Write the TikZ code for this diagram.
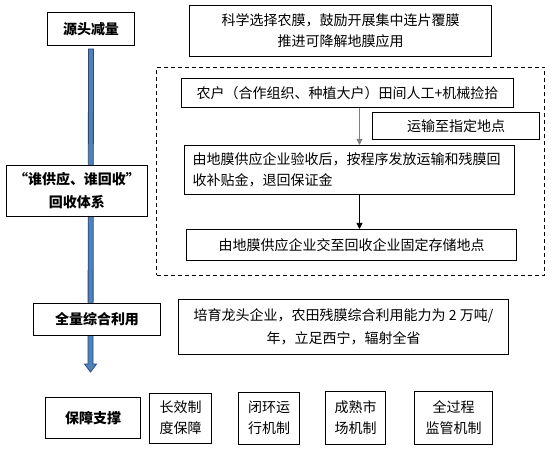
\documentclass[tikz,border=0pt]{standalone}
\usepackage{fontspec}
\setmainfont{Noto Sans CJK SC}
\usepackage{tikz}
\usetikzlibrary{arrows.meta,positioning,calc}
\definecolor{flowBlue}{HTML}{4F81BD}
\definecolor{flowEdge}{HTML}{2B4A73}

\begin{document}
\begin{tikzpicture}[x=1pt,y=-1pt,
  box/.style={draw,fill=white,line width=1pt,inner sep=0pt,align=center,
    font=\fontsize{14}{21}\selectfont},
  tbox/.style={box,anchor=north west},
  head/.style={tbox,font=\fontsize{14}{23}\selectfont\bfseries},
  ar/.style={-{Triangle[length=6pt,width=6pt]},line width=0.9pt}
]
\useasboundingbox (0,0) rectangle (552,449);
\node[head,minimum width=87pt,minimum height=33pt] (src) at (47,12) {源头减量};
\coordinate (flowend) at (90.5,372);
\filldraw[fill=flowBlue,draw=flowEdge,line width=0.8pt]
  ($(src.south)+(-2.5,3)$) -- ($(src.south)+(2.5,3)$) -- ($(flowend)+(2.5,-8)$)
  -- ($(flowend)+(6,-8)$) -- (flowend) -- ($(flowend)+(-6,-8)$)
  -- ($(flowend)+(-2.5,-8)$) -- cycle;
\node[tbox,minimum width=302pt,minimum height=51pt] (film) at (189,5)
  {科学选择农膜，鼓励开展集中连片覆膜\\推进可降解地膜应用};
\node[tbox,draw,fill=none,dash pattern=on 4pt off 3pt,minimum width=388pt,minimum height=208pt] (zone) at (156,67) {};
\node[tbox,minimum width=332pt,minimum height=29pt] (farm) at (181,78)
  {农户（合作组织、种植大户）田间人工+机械捡拾};
\node[tbox,minimum width=167pt,minimum height=27pt] (haul) at (372,112) {运输至指定地点};
\node[tbox,minimum width=330pt,minimum height=49pt,text width=314pt,align=left,inner xsep=8pt] (check) at (184,145)
  {由地膜供应企业验收后，按程序发放运输和残膜回\\收补贴金，退回保证金};
\node[tbox,minimum width=330pt,minimum height=31pt] (store) at (186,229)
  {由地膜供应企业交至回收企业固定存储地点};
\node[head,minimum width=141pt,minimum height=51pt] (who) at (6,165)
  {“谁供应、谁回收”\\回收体系};
\node[head,minimum width=127pt,minimum height=32pt] (use) at (33,303) {全量综合利用};
\node[tbox,minimum width=330pt,minimum height=55pt,font=\fontsize{14}{23}\selectfont] (lead) at (178,299)
  {培育龙头企业，农田残膜综合利用能力为 2 万吨/\\年，立足西宁，辐射全省};
\node[head,minimum width=95pt,minimum height=41pt] (guard) at (45,397) {保障支撑};
\node[box,minimum width=62pt,minimum height=50pt,right=8pt of guard] (m1) {长效制\\度保障};
\node[box,minimum width=61pt,minimum height=52pt,right=26pt of m1] (m2) {闭环运\\行机制};
\node[box,minimum width=60pt,minimum height=53pt,right=25pt of m2] (m3) {成熟市\\场机制};
\node[box,minimum width=78pt,minimum height=53pt,right=28pt of m3] (m4) {全过程\\监管机制};
\draw[ar,draw=gray,fill=black] ([xshift=12pt]farm.south) -- ([xshift=12pt]farm.south |- check.north);
\draw[ar] ([xshift=10pt]check.south) -- ([xshift=10pt]check.south |- store.north);
\end{tikzpicture}
\end{document}
